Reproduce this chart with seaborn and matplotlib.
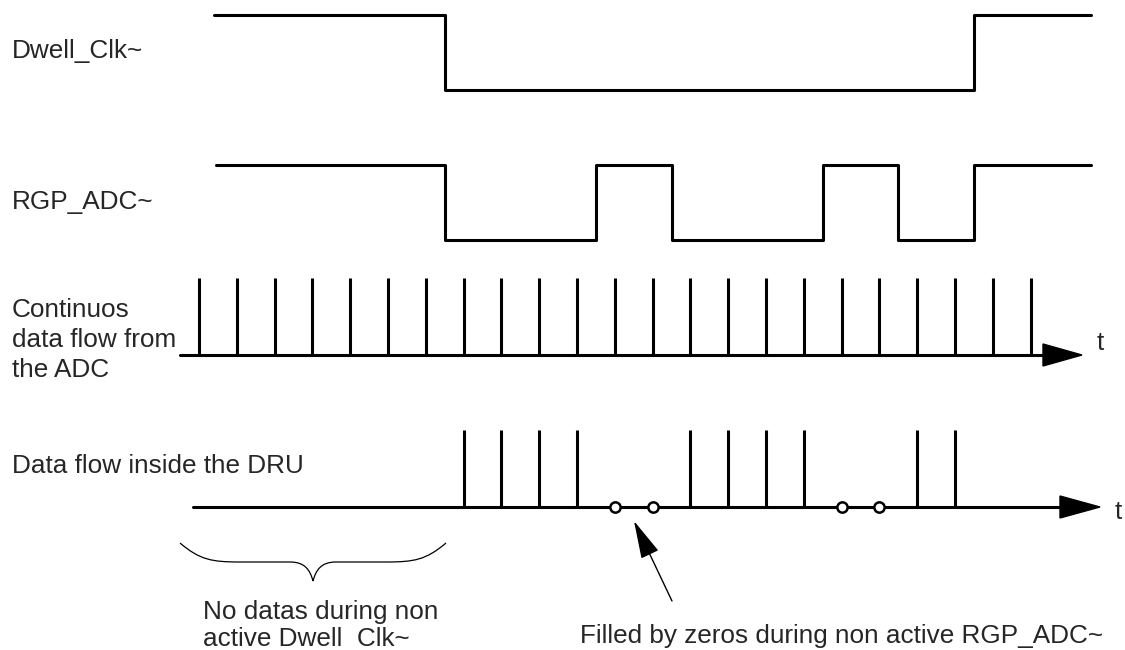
import matplotlib
matplotlib.use("Agg")
import matplotlib.pyplot as plt
import matplotlib.transforms as mtransforms
from matplotlib.path import Path
from matplotlib.patches import PathPatch, Polygon
import seaborn as sns
import pandas as pd

# ---------------- data (time in ADC sample periods) ----------------
dwell_t = [0.4, 6.5, 20.5, 23.6]
dwell_level = [1, 0, 1, 1]

rgp_t = [0.45, 6.5, 10.5, 12.5, 16.5, 18.5, 20.5, 23.6]
rgp_level = [1, 0, 1, 0, 1, 0, 1, 1]

adc_samples = list(range(23))
dru_samples = [7, 8, 9, 10, 13, 14, 15, 16, 19, 20]
dru_zeros = [11, 12, 17, 18]

row_labels = ["Dwell_Clk~", "RGP_ADC~", "Continuos\ndata flow from\nthe ADC",
              "Data flow inside the DRU"]
note_left = "No datas during non\nactive Dwell  Clk~"
note_right = "Filled by zeros during non active RGP_ADC~"
axis_label = "t"

# ---------------- layout ----------------
W, H = 1125, 650
T0, DT = 199.0, 37.8  # pixel of sample 0 and sample spacing

sns.set_theme(style="white")
plt.rcParams["font.family"] = ["Liberation Sans", "DejaVu Sans"]

fig = plt.figure(figsize=(W / 100, H / 100), dpi=100)
ax = fig.add_axes([0, 0, 1, 1])
ax.set_xlim((0 - T0) / DT, (W - T0) / DT)
ax.set_ylim(H, 0)
ax.axis("off")

# pixel transform (x right, y down)
pix = mtransforms.Affine2D().scale(1, -1).translate(0, H)

LW = 2.2
FS = 18.8


def sig_df(t, lev, hi, lo):
    return pd.DataFrame({"t": t, "y": [hi if v else lo for v in lev]})


# Dwell clock
d = sig_df(dwell_t, dwell_level, 15, 90)
sns.lineplot(data=d, x="t", y="y", ax=ax, drawstyle="steps-post",
             color="black", lw=LW, sort=False, estimator=None)

# RGP ADC
r = sig_df(rgp_t, rgp_level, 165, 240)
sns.lineplot(data=r, x="t", y="y", ax=ax, drawstyle="steps-post",
             color="black", lw=LW, sort=False, estimator=None)

# ADC data stream
ADC_BASE, ADC_TOP = 355, 278
ax.vlines(adc_samples, ADC_TOP, ADC_BASE, color="black", lw=LW)
sns.lineplot(x=[(180 - T0) / DT, (1050 - T0) / DT], y=[ADC_BASE, ADC_BASE],
             ax=ax, color="black", lw=LW)
ax.add_patch(Polygon([[1043, ADC_BASE - 11], [1082, ADC_BASE], [1043, ADC_BASE + 11]],
                     closed=True, color="black", transform=pix))

# DRU data stream
DRU_BASE, DRU_TOP = 507, 430
ax.vlines(dru_samples, DRU_TOP, DRU_BASE, color="black", lw=LW)
sns.lineplot(x=[(193 - T0) / DT, (1070 - T0) / DT], y=[DRU_BASE, DRU_BASE],
             ax=ax, color="black", lw=LW)
ax.add_patch(Polygon([[1060, DRU_BASE - 11], [1100, DRU_BASE], [1060, DRU_BASE + 11]],
                     closed=True, color="black", transform=pix))
sns.scatterplot(x=dru_zeros, y=[DRU_BASE] * len(dru_zeros), ax=ax, marker="o",
                s=55, facecolor="white", edgecolor="black", linewidth=1.8, zorder=5)

# labels (baseline-aligned)
LX = 12
ax.text(LX, 58, row_labels[0], transform=pix, fontsize=FS, va="baseline", ha="left")
ax.text(LX, 209, row_labels[1], transform=pix, fontsize=FS, va="baseline", ha="left")
for line, yb in zip(row_labels[2].split("\n"), [317, 347, 377]):
    ax.text(LX, yb, line, transform=pix, fontsize=FS, va="baseline", ha="left")
ax.text(LX, 473, row_labels[3], transform=pix, fontsize=FS, va="baseline", ha="left")
ax.text(1100, 343, axis_label, transform=pix, fontsize=FS, va="center", ha="center")
ax.text(1118, 512, axis_label, transform=pix, fontsize=FS, va="center", ha="center")

# brace
verts = [(180, 543), (200, 560), (212, 562), (240, 562),
         (290, 562),
         (305, 562), (310, 570), (313, 581),
         (316, 570), (321, 562), (336, 562),
         (386, 562),
         (414, 562), (426, 560), (446, 543)]
codes = [Path.MOVETO, Path.CURVE4, Path.CURVE4, Path.CURVE4,
         Path.LINETO,
         Path.CURVE4, Path.CURVE4, Path.CURVE4,
         Path.CURVE4, Path.CURVE4, Path.CURVE4,
         Path.LINETO,
         Path.CURVE4, Path.CURVE4, Path.CURVE4]
ax.add_patch(PathPatch(Path(verts, codes), fill=False, lw=0.9, color="black",
                       transform=pix))
for line, yb in zip(note_left.split("\n"), [619, 646]):
    ax.text(203, yb, line, transform=pix, fontsize=FS, va="baseline", ha="left")

# pointer arrow
ax.annotate("", xy=(634, 521), xytext=(672, 601), xycoords=pix, textcoords=pix,
            arrowprops=dict(arrowstyle="-|>,head_length=1.2,head_width=0.3",
                            mutation_scale=20, lw=1.0, color="black",
                            shrinkA=0, shrinkB=0))
ax.text(580, 643, note_right, transform=pix, fontsize=FS, va="baseline", ha="left")

fig.savefig("out.png", dpi=100)
